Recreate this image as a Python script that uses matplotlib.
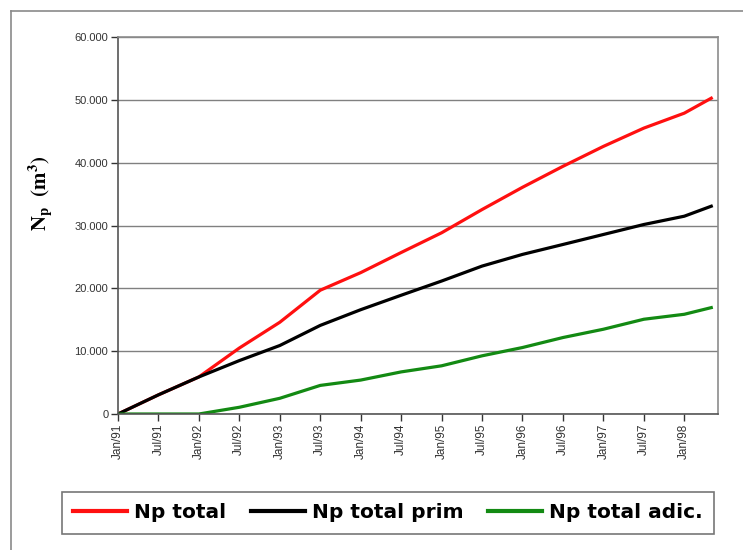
import matplotlib
matplotlib.use("Agg")
import matplotlib.pyplot as plt
from matplotlib.lines import Line2D
from matplotlib.ticker import FuncFormatter

# months counted from Jan/91
months = [0, 6, 12, 18, 24, 30, 36, 42, 48, 54, 60, 66, 72, 78, 84, 88]

np_total = [0, 3050, 5900, 10500, 14600, 19700, 22500, 25700, 28840,
            32540, 36080, 39420, 42590, 45500, 47880, 50260]
np_prim = [0, 3050, 5900, 8500, 10900, 14100, 16600, 18900, 21160,
           23540, 25400, 26980, 28570, 30160, 31480, 33070]
np_adic = [0, 0, 0, 1070, 2500, 4550, 5400, 6700, 7670,
           9260, 10580, 12170, 13490, 15080, 15870, 16930]

tick_months = list(range(0, 85, 6))
tick_labels = ["Jan/91", "Jul/91", "Jan/92", "Jul/92", "Jan/93", "Jul/93",
               "Jan/94", "Jul/94", "Jan/95", "Jul/95", "Jan/96", "Jul/96",
               "Jan/97", "Jul/97", "Jan/98"]

series_names = ["Np total", "Np total prim", "Np total adic."]
series_colors = ["#ff1010", "#000000", "#138a13"]

plt.rcParams["mathtext.fontset"] = "stix"

W, H = 743, 550
fig = plt.figure(figsize=(W / 100, H / 100), dpi=100)
ax = fig.add_axes([118 / W, 1 - 414 / H, 600 / W, 377 / H])

for vals, col in zip([np_total, np_prim, np_adic], series_colors):
    ax.plot(months, vals, color=col, lw=2.3, solid_joinstyle="round")

ax.set_xlim(0, 89)
ax.set_ylim(0, 60000)
ax.set_yticks(range(0, 60001, 10000))
ax.yaxis.set_major_formatter(FuncFormatter(lambda v, p: f"{int(v):,}".replace(",", ".")))
ax.set_xticks(tick_months)
ax.set_xticklabels(tick_labels, rotation=90)

ax.grid(axis="y", color="#808080", lw=1)
ax.set_axisbelow(True)
for s in ["top", "right"]:
    ax.spines[s].set_color("#8c8c8c")
    ax.spines[s].set_linewidth(1.2)
for s in ["left", "bottom"]:
    ax.spines[s].set_color("#555555")
    ax.spines[s].set_linewidth(1.2)
ax.tick_params(axis="both", direction="out", length=5, width=1, color="#333333",
               labelcolor="#333333", pad=2)
ax.tick_params(axis="y", labelsize=8)
ax.tick_params(axis="x", labelsize=8.5)
for lab in ax.get_xticklabels() + ax.get_yticklabels():
    lab.set_fontfamily("Liberation Sans")

fig.text(41 / W, 1 - 193 / H, r"$\mathbf{N_p\ \ (m^3)}$", rotation=90,
         ha="center", va="center", fontsize=15)

handles = [Line2D([], [], color=c, lw=3) for c in series_colors]
leg = fig.legend(handles, series_names, ncol=3, loc="center left",
                 bbox_to_anchor=(62 / W, 1 - 513 / H), borderaxespad=0,
                 prop={"family": "DejaVu Sans", "weight": "bold", "size": 14.5},
                 handlelength=2.7, handletextpad=0.35, columnspacing=1.2,
                 borderpad=0.55, fancybox=False, framealpha=1)
leg.get_frame().set_edgecolor("#777777")
leg.get_frame().set_linewidth(1.2)

# outer chart frame (cropped on the right and bottom)
fig.add_artist(Line2D([11 / W, 1], [1 - 11 / H, 1 - 11 / H], color="#8a8a8a", lw=1.2))
fig.add_artist(Line2D([11 / W, 11 / W], [0, 1 - 11 / H], color="#8a8a8a", lw=1.2))

fig.savefig("out.png", dpi=100)
